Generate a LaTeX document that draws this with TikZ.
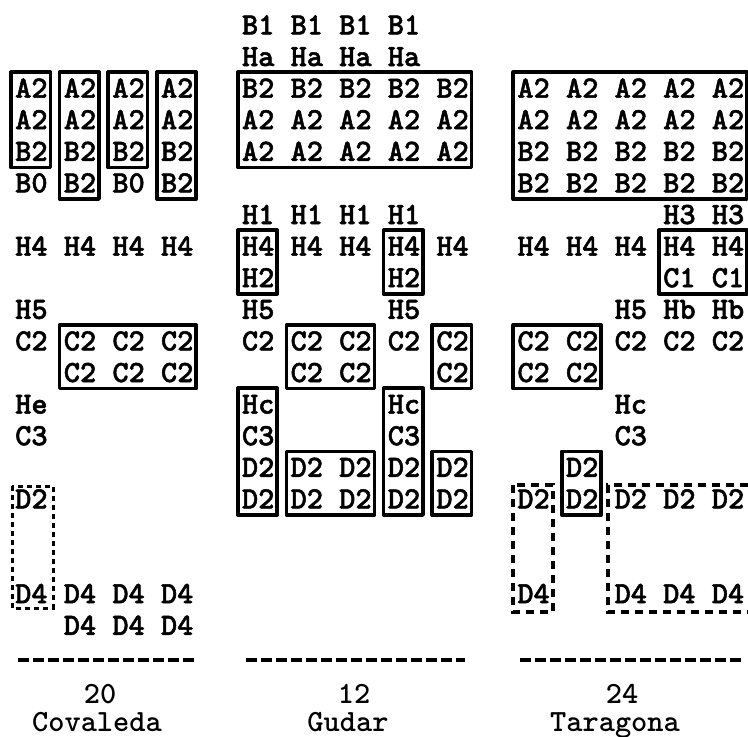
\documentclass[tikz,border=0pt]{standalone}
\usepackage{fontspec}
\newfontfamily\tw{lmmonolt10-bold.otf}[FakeBold=1.6]
\newfontfamily\twl{lmmonolt10-bold.otf}
\newcommand\tokfont{\tw\fontsize{30.86}{36}\selectfont}
\newcommand\labfont{\twl\fontsize{30.86}{36}\selectfont}
\begin{document}
\begin{tikzpicture}[x=1pt,y=-1pt,
  tk/.style={anchor=base west,inner sep=0pt,font=\tokfont},
  lb/.style={anchor=base,inner sep=0pt,font=\labfont},
  bx/.style={draw,line width=3.6pt,line join=round},
  dbx/.style={draw,line width=3.2pt,dash pattern=on 8pt off 6pt},
  dotbx/.style={draw,line width=3pt,dash pattern=on 5pt off 4pt},
  rule/.style={draw,line width=3.6pt,dash pattern=on 11pt off 4pt}]
\useasboundingbox (0,0) rectangle (748,737);
% tokens: row / column / text
\foreach \r/\c/\t in {
  2/0/A2, 2/3/A2, 2/6/A2, 2/9/A2,
  3/0/A2, 3/3/A2, 3/6/A2, 3/9/A2,
  4/0/B2, 4/3/B2, 4/6/B2, 4/9/B2,
  5/0/B0, 5/3/B2, 5/6/B0, 5/9/B2,
  7/0/H4, 7/3/H4, 7/6/H4, 7/9/H4,
  9/0/H5,
  10/0/C2, 10/3/C2, 10/6/C2, 10/9/C2,
  11/3/C2, 11/6/C2, 11/9/C2,
  12/0/He, 13/0/C3, 15/0/D2,
  18/0/D4, 18/3/D4, 18/6/D4, 18/9/D4,
  19/3/D4, 19/6/D4, 19/9/D4,
  0/14/B1, 0/17/B1, 0/20/B1, 0/23/B1,
  1/14/Ha, 1/17/Ha, 1/20/Ha, 1/23/Ha,
  2/14/B2, 2/17/B2, 2/20/B2, 2/23/B2, 2/26/B2,
  3/14/A2, 3/17/A2, 3/20/A2, 3/23/A2, 3/26/A2,
  4/14/A2, 4/17/A2, 4/20/A2, 4/23/A2, 4/26/A2,
  6/14/H1, 6/17/H1, 6/20/H1, 6/23/H1,
  7/14/H4, 7/17/H4, 7/20/H4, 7/23/H4, 7/26/H4,
  8/14/H2, 8/23/H2,
  9/14/H5, 9/23/H5,
  10/14/C2, 10/17/C2, 10/20/C2, 10/23/C2, 10/26/C2,
  11/17/C2, 11/20/C2, 11/26/C2,
  12/14/Hc, 12/23/Hc,
  13/14/C3, 13/23/C3,
  14/14/D2, 14/17/D2, 14/20/D2, 14/23/D2, 14/26/D2,
  15/14/D2, 15/17/D2, 15/20/D2, 15/23/D2, 15/26/D2,
  2/31/A2, 2/34/A2, 2/37/A2, 2/40/A2, 2/43/A2,
  3/31/A2, 3/34/A2, 3/37/A2, 3/40/A2, 3/43/A2,
  4/31/B2, 4/34/B2, 4/37/B2, 4/40/B2, 4/43/B2,
  5/31/B2, 5/34/B2, 5/37/B2, 5/40/B2, 5/43/B2,
  6/40/H3, 6/43/H3,
  7/31/H4, 7/34/H4, 7/37/H4, 7/40/H4, 7/43/H4,
  8/40/C1, 8/43/C1,
  9/37/H5, 9/40/Hb, 9/43/Hb,
  10/31/C2, 10/34/C2, 10/37/C2, 10/40/C2, 10/43/C2,
  11/31/C2, 11/34/C2,
  12/37/Hc, 13/37/C3,
  14/34/D2,
  15/31/D2, 15/34/D2, 15/37/D2, 15/40/D2, 15/43/D2,
  18/31/D4, 18/37/D4, 18/40/D4, 18/43/D4}
  \node[tk] (n\r-\c) at ({15+16.2*\c},{25+31.6*\r+9.4}) {\t};
% solid boxes: first col / last col / first row / last row
\foreach \ca/\cb/\ra/\rb in {
  0/0/2/4, 3/3/2/5, 6/6/2/4, 9/9/2/5, 3/9/10/11,
  14/26/2/4, 14/14/7/8, 23/23/7/8, 17/20/10/11, 26/26/10/11,
  14/14/12/15, 17/20/14/15, 23/23/12/15, 26/26/14/15,
  31/43/2/5, 40/43/7/8, 31/34/10/11, 34/34/14/15}
  \path[bx] ({15+16.2*\ca-4},{25+31.6*\ra-16}) rectangle ({15+16.2*(\cb+2)+3},{25+31.6*\rb+16});
% dashed boxes
\path[dotbx] (12,486) rectangle (53,608);
\path[dbx] (513,485) rectangle (553,612);
\path[dbx] (748,485) -- (608,485) -- (608,612) -- (748,612);
% totals rules
\path[rule] (18,660) -- (195,660);
\path[rule] (246,660) -- (465,660);
\path[rule] (520,660) -- (742,660);
% labels
\node[lb] (t20) at (100,703) {20};
\node[lb] (tC) at (97,731) {Covaleda};
\node[lb] (t12) at (354,703) {12};
\node[lb] (tG) at (348,731) {Gudar};
\node[lb] (t24) at (622,703) {24};
\node[lb] (tT) at (615,731) {Taragona};
\end{tikzpicture}
\end{document}
